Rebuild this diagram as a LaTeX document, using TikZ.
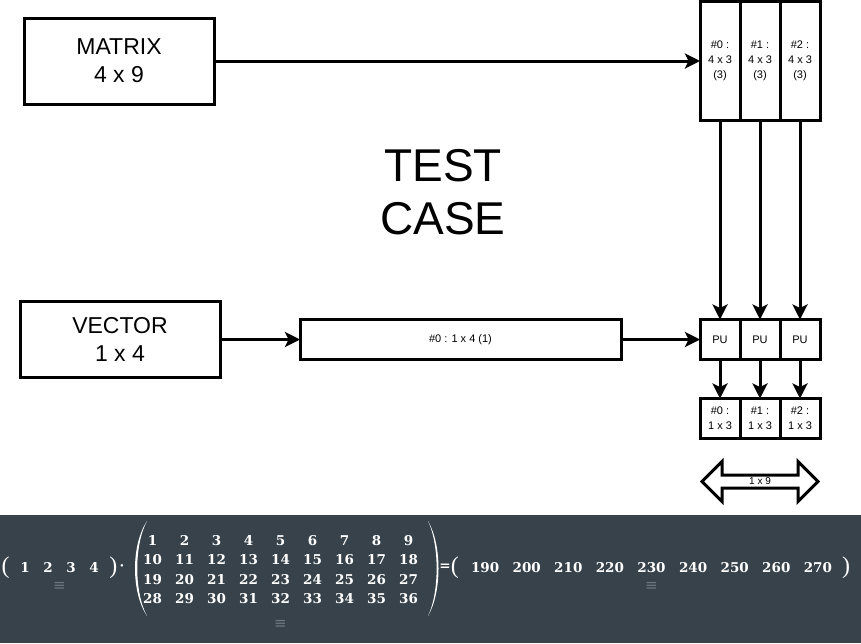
\documentclass[tikz,border=0pt]{standalone}
\usepackage{fontspec}
\setmainfont{Liberation Sans}
\newfontfamily\numfont{DejaVu Serif}
\newfontfamily\parenfont{Liberation Serif}
\newfontfamily\symfont{DejaVu Sans}
\usetikzlibrary{positioning,matrix,shapes.arrows,arrows.meta}
\definecolor{bandgray}{HTML}{37424A}
\definecolor{markgray}{HTML}{6E767C}
\tikzset{>={Stealth[length=15pt,width=15pt,inset=3.5pt]}}
\tikzset{
  blockbox/.style={draw, line width=3pt, outer sep=0pt, align=center},
  biglabel/.style={font=\fontsize{23}{28}\selectfont},
  smalllabel/.style={font=\fontsize{11}{15}\selectfont},
  link/.style={->, line width=3pt},
  numcell/.style={font=\numfont\bfseries\fontsize{13.5}{13.5}\selectfont, text=white,
    inner sep=0pt, minimum height=19.5pt},
  bigparen/.style={font=\parenfont\fontsize{24}{24}\selectfont, text=white, inner sep=0pt},
  eqmark/.style={font=\symfont\fontsize{15}{15}\selectfont, text=markgray, inner sep=0pt}
}

\begin{document}
\begin{tikzpicture}[x=1pt,y=-1pt]
  \useasboundingbox (0,0) rectangle (861,643);

  \node [blockbox, biglabel,
    minimum width=190pt, minimum height=86pt
  ] (mtx) at (119,61) {MATRIX\\4 x 9};
  \node [blockbox, smalllabel,
    minimum width=40pt, minimum height=119pt,
    right=486pt of mtx
  ] (col0) {\#0 :\\4 x 3\\(3)};
  \node [blockbox, smalllabel,
    minimum width=40pt, minimum height=119pt,
    right=0pt of col0
  ] (col1) {\#1 :\\4 x 3\\(3)};
  \node [blockbox, smalllabel,
    minimum width=40pt, minimum height=119pt,
    right=0pt of col1
  ] (col2) {\#2 :\\4 x 3\\(3)};

  \node [blockbox, smalllabel,
    minimum width=40pt, minimum height=40pt,
    below=199pt of col0
  ] (pu0) {PU};
  \node [blockbox, smalllabel,
    minimum width=40pt, minimum height=40pt,
    right=0pt of pu0
  ] (pu1) {PU};
  \node [blockbox, smalllabel,
    minimum width=40pt, minimum height=40pt,
    right=0pt of pu1
  ] (pu2) {PU};

  \node [blockbox, smalllabel,
    minimum width=40pt, minimum height=40pt,
    below=39pt of pu0
  ] (res0) {\#0 :\\1 x 3};
  \node [blockbox, smalllabel,
    minimum width=40pt, minimum height=40pt,
    right=0pt of res0
  ] (res1) {\#1 :\\1 x 3};
  \node [blockbox, smalllabel,
    minimum width=40pt, minimum height=40pt,
    right=0pt of res1
  ] (res2) {\#2 :\\1 x 3};

  \node [blockbox, smalllabel,
    minimum width=321pt, minimum height=40pt,
    left=79pt of pu0
  ] (slice) {\#0 : 1 x 4 (1)};
  \node [blockbox, biglabel,
    minimum width=200pt, minimum height=76pt,
    left=80pt of slice
  ] (vec) {VECTOR\\1 x 4};

  \node [font=\fontsize{46}{53}\selectfont,
    align=center
  ] (title) at (443,192) {TEST\\CASE};

  \node [draw, double arrow,
    line width=3pt, fill=white,
    minimum height=116pt, minimum width=37pt,
    double arrow head extend=13.5pt, inner sep=5pt
  ] (span) at (760,481.5) {};
  \node [fill=white, inner sep=1pt,
    font=\fontsize{10}{10}\selectfont
  ] (spanlabel) at (span) {1 x 9};

  \draw[link] (mtx.east) -- (col0.west);
  \draw[link] (vec.east) -- (slice.west);
  \draw[link] (slice.east) -- (pu0.west);
  \draw[link] (col0.south) -- (pu0.north);
  \draw[link] (col1.south) -- (pu1.north);
  \draw[link] (col2.south) -- (pu2.north);
  \draw[link] (pu0.south) -- (res0.north);
  \draw[link] (pu1.south) -- (res1.north);
  \draw[link] (pu2.south) -- (res2.north);

  \fill[bandgray] (0,515) rectangle (861,643);

  \matrix [matrix of nodes, inner sep=0pt,
    nodes={numcell, minimum width=23pt}
  ] (vecrow) at (59.5,568) {1 & 2 & 3 & 4\\};
  \node [bigparen, left=3.5pt of vecrow] (vecopen) {(};
  \node [bigparen, right=3.5pt of vecrow] (vecclose) {)};
  \node [numcell, minimum height=0pt] (dot) at (122,568) {·};

  \matrix [matrix of nodes, inner sep=0pt,
    nodes={numcell, minimum width=32pt}
  ] (mat) at (280.5,569.5) {
    1 & 2 & 3 & 4 & 5 & 6 & 7 & 8 & 9\\
    10 & 11 & 12 & 13 & 14 & 15 & 16 & 17 & 18\\
    19 & 20 & 21 & 22 & 23 & 24 & 25 & 26 & 27\\
    28 & 29 & 30 & 31 & 32 & 33 & 34 & 35 & 36\\
  };
  \fill[white] (147,521) .. controls (131,545) and (131,592) .. (147,616)
    .. controls (134,592) and (134,545) .. (147,521) -- cycle;
  \fill[white] (428,521) .. controls (442,545) and (442,592) .. (428,616)
    .. controls (439.5,592) and (439.5,545) .. (428,521) -- cycle;

  \node [numcell, minimum height=0pt] (equals) at (445,567) {=};
  \matrix [matrix of nodes, inner sep=0pt,
    nodes={numcell, minimum width=41.6pt}
  ] (resrow) at (651.5,568) {190 & 200 & 210 & 220 & 230 & 240 & 250 & 260 & 270\\};
  \node [bigparen, left=5pt of resrow] (resopen) {(};
  \node [bigparen, right=3pt of resrow] (resclose) {)};

  \node [eqmark, below=4pt of vecrow] (vecmark) {≡};
  \node [eqmark, below=11pt of mat] (matmark) {≡};
  \node [eqmark, below=4pt of resrow] (resmark) {≡};
\end{tikzpicture}
\end{document}
